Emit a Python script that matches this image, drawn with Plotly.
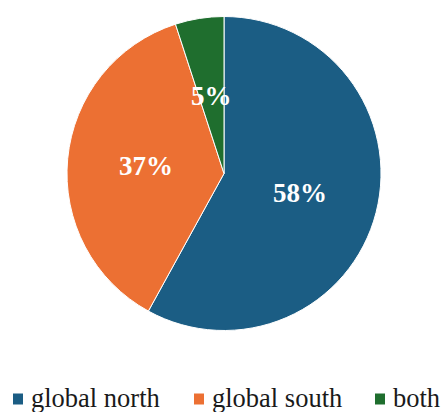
import math
import plotly.graph_objects as go

# Share of items by region
labels = ["global north", "global south", "both"]
shares = [58, 37, 5]
colors = ["#1b5d84", "#ec7033", "#1f6e2e"]

W, H = 443, 412
cx, cy, r = 224, 173.5, 157
LABEL_R = 0.5  # percentages sit halfway out along each slice's middle angle
SERIF = "Liberation Serif"

# Legend row layout (pixels from the left / top of the page)
legend_x = [13, 194, 375]
legend_y = 399
swatch = 10
text_gap = 9


def px_x(x):
    return x / W


def px_y(y):
    return 1 - y / H


fig = go.Figure(
    go.Pie(
        labels=labels,
        values=shares,
        sort=False,
        direction="clockwise",
        rotation=0,
        marker=dict(colors=colors, line=dict(color="white", width=1)),
        textinfo="none",
        domain=dict(
            x=[px_x(cx - r), px_x(cx + r)],
            y=[px_y(cy + r), px_y(cy - r)],
        ),
        hoverinfo="label+percent",
        showlegend=False,
    )
)

# Percentage labels
total = sum(shares)
start = 0.0
for v in shares:
    mid = (start + v / 2) / total * 2 * math.pi
    start += v
    fig.add_annotation(
        x=px_x(cx + LABEL_R * r * math.sin(mid)),
        y=px_y(cy - LABEL_R * r * math.cos(mid)),
        xref="paper",
        yref="paper",
        text=f"<b>{round(v / total * 100)}%</b>",
        showarrow=False,
        xanchor="center",
        yanchor="middle",
        font=dict(family=SERIF, size=27, color="white"),
    )

# Legend: colour swatch followed by the category name
for lab, col, x0 in zip(labels, colors, legend_x):
    fig.add_shape(
        type="rect",
        xref="paper",
        yref="paper",
        x0=px_x(x0),
        x1=px_x(x0 + swatch),
        y0=px_y(legend_y + swatch / 2 + 0.5),
        y1=px_y(legend_y - swatch / 2 - 0.5),
        fillcolor=col,
        line=dict(width=0),
    )
    fig.add_annotation(
        x=px_x(x0 + swatch + text_gap - 2),
        y=px_y(legend_y - 1),
        xref="paper",
        yref="paper",
        text=lab,
        showarrow=False,
        xanchor="left",
        yanchor="middle",
        borderpad=0,
        font=dict(family=SERIF, size=26.5, color="#1a1a1a"),
    )

fig.update_layout(
    width=W,
    height=H,
    margin=dict(l=0, r=0, t=0, b=0),
    paper_bgcolor="white",
    showlegend=False,
)

fig.write_html("out.html")
